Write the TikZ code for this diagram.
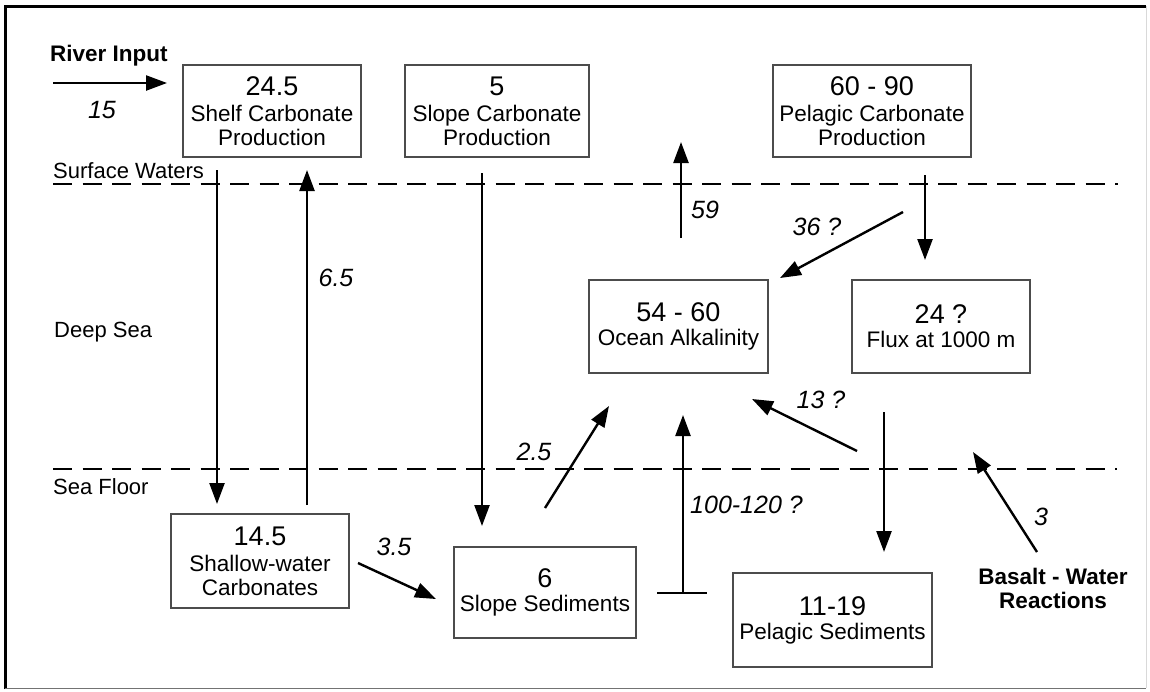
\documentclass[tikz,border=0pt]{standalone}
\usepackage{fontspec}
\setmainfont{Liberation Sans}
\usetikzlibrary{arrows.meta}
\begin{document}
\begin{tikzpicture}[x=1pt,y=-1pt,
  box/.style={draw=black!70, line width=1.3pt, inner sep=0pt, align=center,
    font=\fontsize{22.5}{24}\selectfont},
  flow/.style={line width=2.4pt, -{Triangle[length=21pt,width=15pt]}},
  bar/.style={line width=2.4pt},
  lab/.style={font=\fontsize{25}{26}\selectfont\itshape, inner sep=0pt},
  zone/.style={font=\fontsize{22}{24}\selectfont, inner sep=0pt, anchor=base west},
  heavy/.style={font=\fontsize{22.5}{24}\selectfont\bfseries, inner sep=0pt, align=center},
  level/.style={line width=2.2pt, dash pattern=on 19pt off 10.5pt}]
\newcommand{\bignr}[1]{{\fontsize{27}{28}\selectfont #1}}
\useasboundingbox (0,0) rectangle (1150,691);
\fill[white] (0,0) rectangle (1150,691);
% frame
\draw[line width=3pt] (5,689) -- (5,6) -- (1146,6);
\draw[black!15, line width=1pt] (1146,6) -- (1146,688);
\draw[black!55, line width=1.5pt] (5,688.5) -- (1146,688.5);
% level lines
\draw[level] (53,184) -- (1118,184);
\draw[level] (53,469) -- (1117,469);
% zone labels
\node[zone] (surf) at (53,178) {Surface Waters};
\node[zone] (deep) at (54,337) {Deep Sea};
\node[zone] (floor) at (53,494) {Sea Floor};
% boxes
\node[box, minimum width=178pt, minimum height=92pt] (shelf) at (272,111)
  {\bignr{24.5}\\[2pt]Shelf Carbonate\\Production};
\node[box, minimum width=184pt, minimum height=92pt] (slopeC) at (497,111)
  {\bignr{5}\\[2pt]Slope Carbonate\\Production};
\node[box, minimum width=198pt, minimum height=92pt] (pelC) at (872,111)
  {\bignr{60 - 90}\\[2pt]Pelagic Carbonate\\Production};
\node[box, minimum width=179pt, minimum height=93pt] (ocean) at (678.5,326.5)
  {\bignr{54 - 60}\\Ocean Alkalinity};
\node[box, minimum width=178pt, minimum height=93pt] (flux) at (941,326.5)
  {\bignr{24 ?}\\Flux at 1000 m};
\node[box, minimum width=178pt, minimum height=94pt] (shallow) at (260,561)
  {\bignr{14.5}\\[2pt]Shallow-water\\Carbonates};
\node[box, minimum width=182pt, minimum height=91pt] (slopeS) at (545,592.5)
  {\bignr{6}\\Slope Sediments};
\node[box, minimum width=199pt, minimum height=94pt] (pelS) at (832.5,620)
  {\bignr{11-19}\\Pelagic Sediments};
% bold labels
\node[heavy, anchor=base west] (river) at (50,61) {River Input};
\node[heavy, anchor=base] (basalt) at (1053,584) {Basalt - Water};
\node[heavy, anchor=base] (basalt2) at (1053,608) {Reactions};
% arrow end points
\coordinate (r0) at (53,83);   \coordinate (r1) at (167,83);
\coordinate (a0) at (217,170); \coordinate (a1) at (217,504);
\coordinate (b0) at (307,505); \coordinate (b1) at (307,170);
\coordinate (c0) at (482,173); \coordinate (c1) at (482,526);
\coordinate (d0) at (681,238); \coordinate (d1) at (681,142);
\coordinate (e0) at (925,175); \coordinate (e1) at (925,260);
\coordinate (f0) at (903,212); \coordinate (f1) at (780,278);
\coordinate (g0) at (857,451); \coordinate (g1) at (752,399);
\coordinate (h0) at (884,412); \coordinate (h1) at (884,552);
\coordinate (i0) at (1037,552); \coordinate (i1) at (973,452);
\coordinate (j0) at (358,563); \coordinate (j1) at (436,599);
\coordinate (k0) at (545,508); \coordinate (k1) at (609,406);
\coordinate (tl) at (657,593); \coordinate (tr) at (707,593);
\coordinate (t0) at (683,593); \coordinate (t1) at (683,415);
% arrows
\draw[flow] (r0) -- (r1);
\draw[flow] (a0) -- (a1);
\draw[flow] (b0) -- (b1);
\draw[flow] (c0) -- (c1);
\draw[flow] (d0) -- (d1);
\draw[flow] (e0) -- (e1);
\draw[flow] (f0) -- (f1);
\draw[flow] (g0) -- (g1);
\draw[flow] (h0) -- (h1);
\draw[flow] (i0) -- (i1);
\draw[flow] (j0) -- (j1);
\draw[flow] (k0) -- (k1);
\draw[bar] (tl) -- (tr);
\draw[flow] (t0) -- (t1);
% flux labels
\node[lab] (l15) at (102,110) {15};
\node[lab] (l65) at (336,278) {6.5};
\node[lab] (l59) at (705,210) {59};
\node[lab] (l36) at (817,227) {36 ?};
\node[lab] (l13) at (821,400) {13 ?};
\node[lab] (l25) at (534,452) {2.5};
\node[lab, anchor=west] (l100) at (690,505) {100-120 ?};
\node[lab] (l3) at (1041,517) {3};
\node[lab] (l35) at (394,547) {3.5};
\end{tikzpicture}
\end{document}
